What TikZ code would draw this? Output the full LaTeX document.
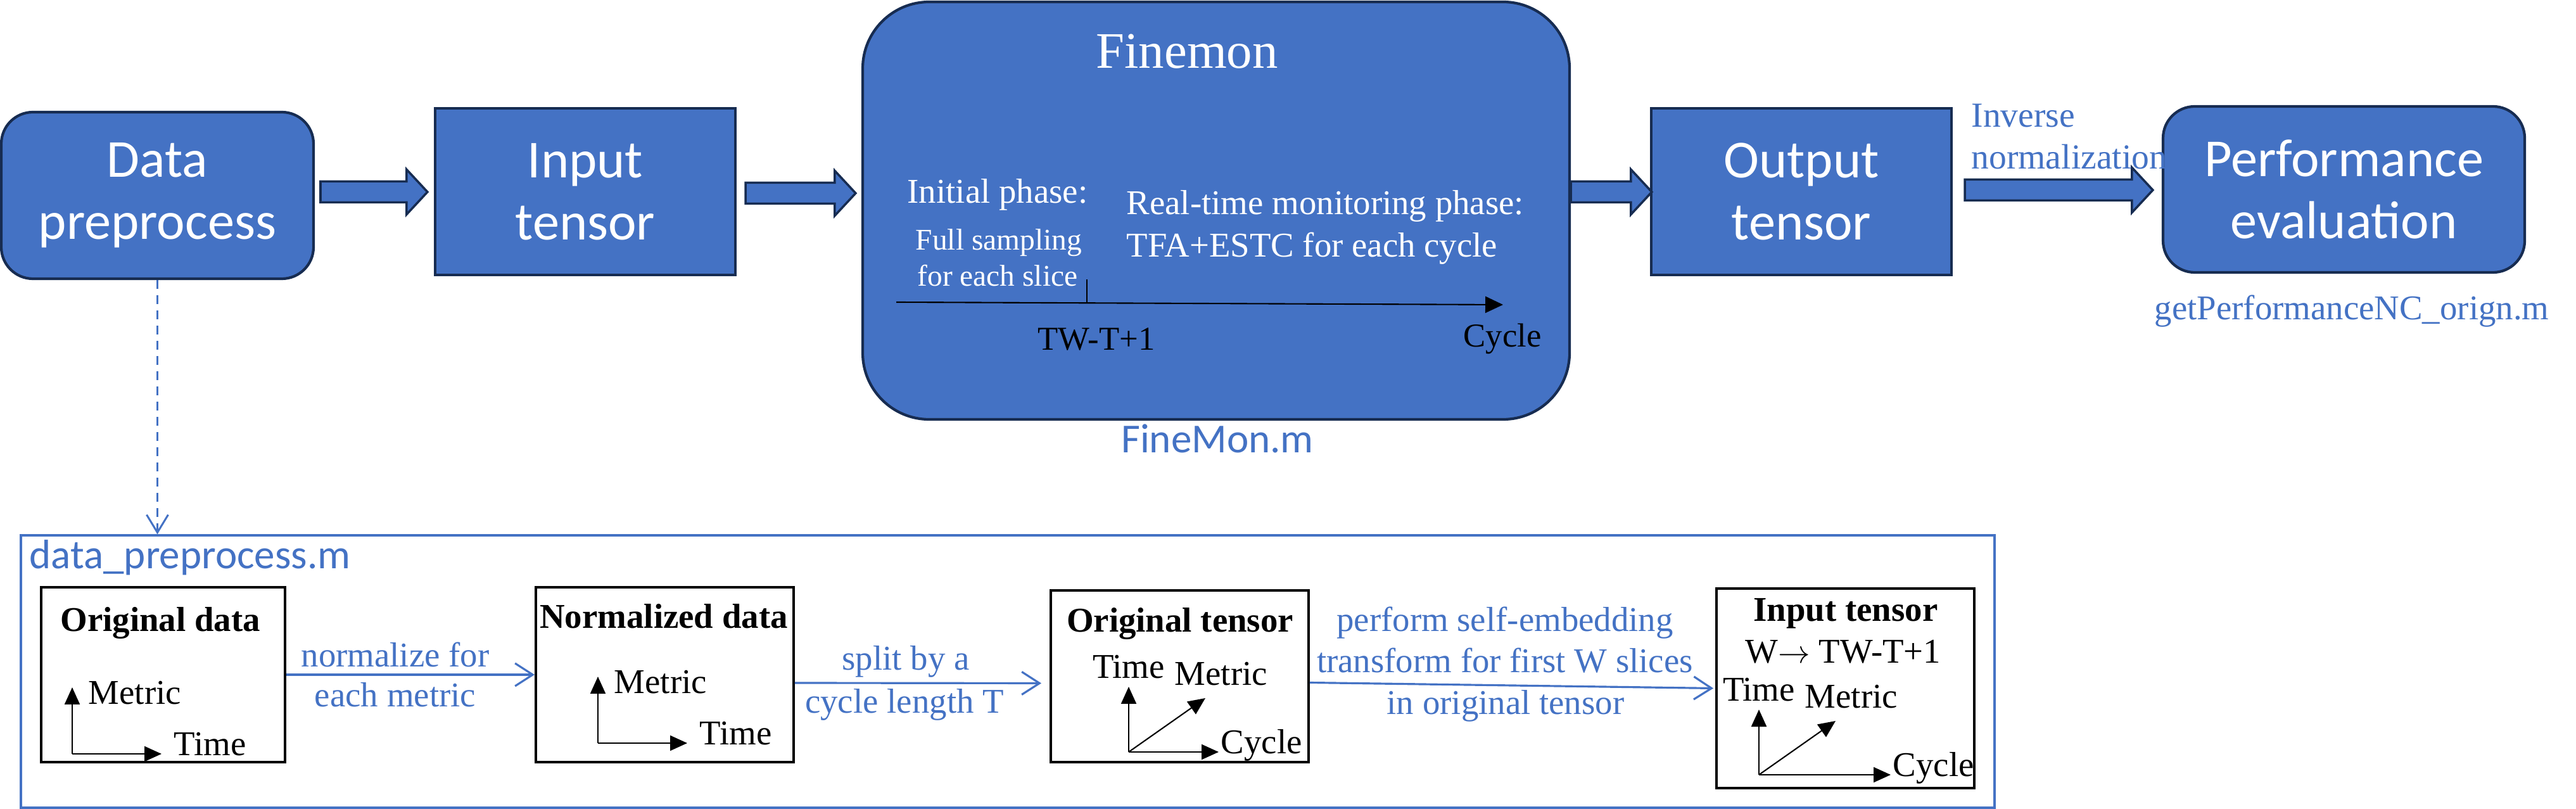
\documentclass[tikz,border=0pt]{standalone}
\usepackage{fontspec}
\setmainfont{Liberation Serif}
\newfontfamily\calibfont{Carlito}
\usetikzlibrary{positioning,calc,arrows.meta}
\definecolor{boxBlue}{HTML}{4472C4}
\definecolor{boxEdge}{HTML}{172C51}
\tikzset{
    blueBlock/.style={draw=boxEdge, line width=1.2pt, fill=boxBlue, text=white, align=center,
        font=\calibfont\fontsize{24}{28}\selectfont},
    fileName/.style={text=boxBlue, inner sep=0pt, font=\calibfont\fontsize{18.5}{22}\selectfont},
    serifText/.style={inner sep=0pt, font=\fontsize{15.6}{18.7}\selectfont},
    blueText/.style={serifText, text=boxBlue},
    stepBox/.style={draw=black, line width=1.1pt, inner sep=0pt},
    blueFlow/.style={draw=boxBlue, line width=0.9pt, -{Straight Barb[length=2.8mm,width=3.6mm]}},
    axisArrow/.style={line width=0.6pt, -{Triangle[length=2.7mm,width=2.4mm]}},
}
\tikzset{
    flatAxes/.pic={
		\draw[axisArrow] (0,0) -- (0,1.05);
		\draw[axisArrow] (0,0) -- (1.41,0);
		\node[serifText, anchor=base west] (-metric) at (0.25,0.78) {Metric};
		\node[serifText, anchor=base west] (-time) at (1.60,-0.02) {Time};
	}
}
\tikzset{
    cubeAxes/.pic={
		\draw[axisArrow] (0,0) -- (0,1.03);
		\draw[axisArrow] (0,0) -- (1.21,0.85);
		\draw[axisArrow] (0,0) -- (#1,0);
		\node[serifText, anchor=base] (-time) at (0,1.17) {Time};
		\node[serifText, anchor=base west] (-metric) at (0.72,1.05) {Metric};
		\node[serifText, anchor=base west] (-cycle) at (#1+0.03,-0.02) {Cycle};
	}
}
\newcommand{\blockArrow}[2]{%
	\filldraw[draw=boxEdge, line width=1pt, fill=boxBlue]
		($(#1)+(0,0.165)$) -- ($(#2)+(-0.33,0.165)$) -- ($(#2)+(-0.33,0.355)$) -- (#2)
		-- ($(#2)+(-0.33,-0.355)$) -- ($(#2)+(-0.33,-0.165)$) -- ($(#1)+(0,-0.165)$) -- cycle;
}

\begin{document}
\begin{tikzpicture}
			\useasboundingbox (0,0) rectangle (40.67,-12.77);
			% top row
			\node[blueBlock, rounded corners=0.5cm, minimum width=4.93cm, minimum height=2.63cm] (dp) at (2.485,-3.085) {Data\\preprocess};
			\node[blueBlock, minimum width=4.74cm, minimum height=2.63cm] (in) at (9.24,-3.025) {Input\\tensor};
			\node[blueBlock, rounded corners=1.05cm, minimum width=11.16cm, minimum height=6.59cm] (fm) at (19.20,-3.325) {};
			\node[blueBlock, minimum width=4.74cm, minimum height=2.63cm] (out) at (28.44,-3.025) {Output\\tensor};
			\node[blueBlock, rounded corners=0.5cm, minimum width=5.71cm, minimum height=2.62cm] (pe) at (37.005,-2.99) {Performance\\evaluation};
			\coordinate (a1s) at (5.06,-3.03);
			\coordinate (a1e) at ($(in.west |- a1s)+(-0.10,0)$);
			\coordinate (a2s) at (11.77,-3.05);
			\coordinate (a2e) at ($(fm.west |- a2s)+(-0.09,0)$);
			\coordinate (a3s) at (fm.east |- 0,-3.03);
			\coordinate (a3e) at ($(out.west |- a3s)+(0.03,0)$);
			\coordinate (a4s) at (31.02,-3.00);
			\coordinate (a4e) at ($(pe.west |- a4s)+(-0.14,0)$);
			\blockArrow{a1s}{a1e}
			\blockArrow{a2s}{a2e}
			\blockArrow{a3s}{a3e}
			\blockArrow{a4s}{a4e}
			\node[inner sep=0pt, text=white, font=\fontsize{23}{27}\selectfont, anchor=base] (fmTitle) at (18.74,-1.08) {Finemon};
			\node[serifText, text=white, anchor=base] (initA) at (15.75,-3.21) {Initial phase:};
			\node[inner sep=0pt, text=white, font=\fontsize{13.5}{16}\selectfont, anchor=base] (initB) at (15.77,-3.95) {Full sampling};
			\node[inner sep=0pt, text=white, font=\fontsize{13.5}{16}\selectfont, anchor=base] (initC) at (15.75,-4.52) {for each slice};
			\node[serifText, text=white, anchor=base west] (rtA) at (17.78,-3.39) {Real-time monitoring phase:};
			\node[serifText, text=white, anchor=base west] (rtB) at (17.78,-4.06) {TFA+ESTC for each cycle};
			\coordinate (tl0) at (14.15,-4.77);
			\coordinate (tl1) at (23.73,-4.81);
			\coordinate (tick) at (17.16,-4.41);
			\draw[line width=0.6pt, -{Triangle[length=2.8mm,width=2.6mm]}] (tl0) -- (tl1);
			\draw[line width=0.6pt] (tick) -- ++(0,-0.375);
			\node[inner sep=0pt, font=\fontsize{15}{18}\selectfont, anchor=base] (twLabel) at (17.31,-5.53) {TW-T+1};
			\node[inner sep=0pt, font=\fontsize{15}{18}\selectfont, anchor=base] (cycLabel) at (23.72,-5.48) {Cycle};
			\node[fileName, anchor=base] (fmFile) at (19.22,-7.15) {FineMon.m};
			\node[blueText, font=\fontsize{15.8}{19}\selectfont, anchor=base west] (invA) at (31.12,-2.01) {Inverse};
			\node[blueText, font=\fontsize{15.8}{19}\selectfont, anchor=base west] (invB) at (31.12,-2.67) {normalization};
			\node[blueText, anchor=base] (peFile) at (37.13,-5.05) {getPerformanceNC\_orign.m};
			% data preprocessing detail
			\node[draw=boxBlue, line width=0.9pt, inner sep=0pt, minimum width=31.16cm, minimum height=4.30cm] (dpm) at (15.91,-10.60) {};
			\draw[draw=boxBlue, line width=0.85pt, dash pattern=on 1.4mm off 1mm, -{Straight Barb[length=2.8mm,width=3.4mm]}] (dp.south) -- (dp.south |- dpm.north);
			\node[fileName, anchor=base west] (dpFile) at (0.46,-8.98) {data\_preprocess.m};
			\node[stepBox, minimum width=3.85cm, minimum height=2.76cm] (b1) at (2.575,-10.65) {};
			\node[stepBox, minimum width=4.07cm, minimum height=2.76cm] (b2) at (10.495,-10.65) {};
			\node[stepBox, minimum width=4.07cm, minimum height=2.71cm] (b3) at (18.625,-10.675) {};
			\node[stepBox, minimum width=4.07cm, minimum height=3.15cm] (b4) at (29.135,-10.865) {};
			\node[serifText, font=\bfseries\fontsize{15.6}{18.7}\selectfont, anchor=base] (b1title) at (2.53,-9.97) {Original data};
			\node[serifText, font=\bfseries\fontsize{15.6}{18.7}\selectfont, anchor=base] (b2title) at (10.48,-9.92) {Normalized data};
			\node[serifText, font=\bfseries\fontsize{15.6}{18.7}\selectfont, anchor=base] (b3title) at (18.63,-9.98) {Original tensor};
			\node[serifText, font=\bfseries\fontsize{15.6}{18.7}\selectfont, anchor=base] (b4title) at (29.14,-9.81) {Input tensor};
			\node[serifText, anchor=base] (b4sub) at (29.10,-10.47) {W$\rightarrow$ TW-T+1};
			\pic (ax1) at (1.14,-11.90) {flatAxes};
			\pic (ax2) at (9.44,-11.73) {flatAxes};
			\pic (ax3) at (17.82,-11.87) {cubeAxes={1.42}};
			\pic (ax4) at (27.77,-12.23) {cubeAxes={2.08}};
			\draw[blueFlow] (b1.east) -- (b2.west);
			\draw[blueFlow, shorten >=1.3mm] ([yshift=-1.3mm]b2.east) -- ([yshift=-1.1mm]b3.west);
			\draw[blueFlow, shorten >=0.3mm] ([yshift=-1mm]b3.east) -- (b4.west);
			\node[blueText, anchor=base] (c1a) at (6.24,-10.52) {normalize for};
			\node[blueText, anchor=base] (c1b) at (6.24,-11.15) {each metric};
			\node[blueText, anchor=base] (c2a) at (14.30,-10.58) {split by a};
			\node[blueText, anchor=base] (c2b) at (14.28,-11.25) {cycle length T};
			\node[blueText, anchor=base] (c3a) at (23.76,-9.97) {perform self-embedding};
			\node[blueText, anchor=base] (c3b) at (23.76,-10.62) {transform for first W slices};
			\node[blueText, anchor=base] (c3c) at (23.77,-11.27) {in original tensor};
		\end{tikzpicture}
\end{document}
